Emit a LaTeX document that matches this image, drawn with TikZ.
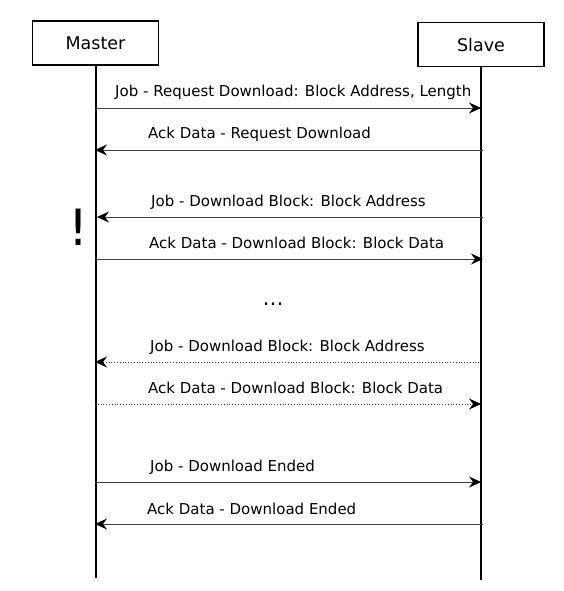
\documentclass[tikz,border=0pt]{standalone}
\usepackage{fontspec}
\setmainfont{DejaVu Sans}
\usetikzlibrary{arrows.meta}
\begin{document}
\begin{tikzpicture}[x=1pt,y=-1pt,
  actor/.style={draw=black,line width=1.8pt,minimum width=126pt,minimum height=44pt,inner sep=0pt,font=\fontsize{17.5}{20}\selectfont},
  life/.style={line width=2pt},
  msg/.style={line width=0.8pt,draw=black!75,-{Stealth[length=12pt,width=11pt,inset=4pt,color=black,fill=black]}},
  dmsg/.style={msg,dotted},
  lbl/.style={anchor=base west,inner sep=0pt,font=\fontsize{15}{17}\selectfont}]
\useasboundingbox (0,0) rectangle (563,591);
\node[actor] (master) at (95.5,43) {Master};
\node[actor] (slave) at (481,44.5) {Slave};
\coordinate (mend) at (95.5,578);
\coordinate (send) at (481,580);
\draw[life] (master.south) -- (mend);
\draw[life] (slave.south) -- (send);
% message endpoints
\coordinate (m1) at (95,108);  \coordinate (s1) at (481,108);
\coordinate (m2) at (95,150);  \coordinate (s2) at (483,150);
\coordinate (m3) at (97,217);  \coordinate (s3) at (483,217);
\coordinate (m4) at (95,259);  \coordinate (s4) at (483,259);
\coordinate (m5) at (95,362);  \coordinate (s5) at (479,362);
\coordinate (m6) at (95,404);  \coordinate (s6) at (481,404);
\coordinate (m7) at (95,482);  \coordinate (s7) at (481,482);
\coordinate (m8) at (95,524);  \coordinate (s8) at (483,524);
\draw[msg] (m1) -- (s1);
\draw[msg] (s2) -- (m2);
\draw[msg] (s3) -- (m3);
\draw[msg] (m4) -- (s4);
\draw[dmsg] (s5) -- (m5);
\draw[dmsg] (m6) -- (s6);
\draw[msg] (m7) -- (s7);
\draw[msg] (s8) -- (m8);
\node[lbl] (l1) at (115,97) {Job - Request Download: Block Address, Length};
\node[lbl] (l2) at (148,139) {Ack Data - Request Download};
\node[lbl] (l3) at (151,206) {Job - Download Block: Block Address};
\node[lbl] (l4) at (149,248) {Ack Data - Download Block: Block Data};
\node[lbl] (l5) at (150,351) {Job - Download Block: Block Address};
\node[lbl] (l6) at (148,393) {Ack Data - Download Block: Block Data};
\node[lbl] (l7) at (150,471) {Job - Download Ended};
\node[lbl] (l8) at (147,514) {Ack Data - Download Ended};
\node[inner sep=0pt,anchor=base,font=\fontsize{21}{24}\selectfont] (dots) at (273,305) {\dots};
\node[inner sep=0pt,anchor=base,font=\fontsize{50}{56}\selectfont] (bang) at (79,245) {!};
\end{tikzpicture}
\end{document}
